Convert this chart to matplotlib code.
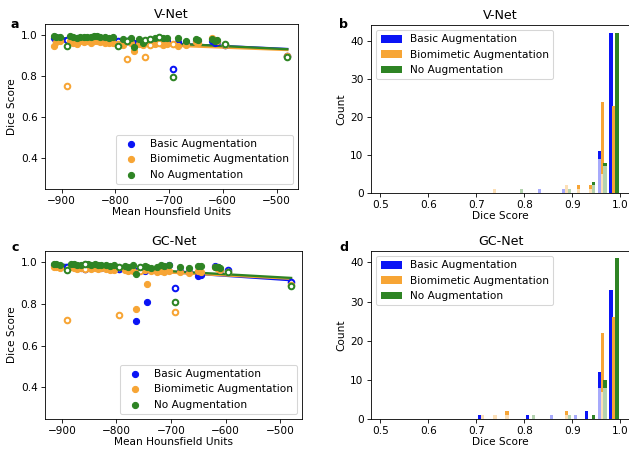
import numpy as np
import matplotlib
matplotlib.use('Agg')
from matplotlib import pyplot as plt

W, H, DPI = 629, 449, 76

# ---- colours
c_basic = '#0a14f5'
c_bio = '#f7a535'
c_none = '#2e8424'
colors = [c_basic, c_bio, c_none]
names = ['Basic Augmentation', 'Biomimetic Augmentation', 'No Augmentation']

# ---- scatter data (mean HU per subject, shared by both nets)
hu = [-915, -910, -904, -890, -884, -878, -872, -865, -858, -852,
      -846, -840, -834, -828, -820, -812, -804, -795, -785, -778,
      -770, -765, -756, -748, -744, -736, -726, -718, -712, -704,
      -692, -684, -668, -650, -646, -620, -614, -610, -595, -481]

# V-Net dice
vnet_basic = [0.985, 0.988, 0.982, 0.977, 0.985, 0.980, 0.983, 0.978, 0.986, 0.982,
              0.984, 0.987, 0.980, 0.982, 0.978, 0.975, 0.981, 0.972, 0.975, 0.968,
              0.977, 0.960, 0.970, 0.965, 0.968, 0.970, 0.975, 0.978, 0.972, 0.970,
              0.832, 0.966, 0.965, 0.972, 0.968, 0.970, 0.960, 0.965, 0.950, 0.895]
vnet_bio = [0.947, 0.965, 0.968, 0.751, 0.970, 0.960, 0.955, 0.972, 0.966, 0.970,
            0.962, 0.968, 0.972, 0.965, 0.960, 0.958, 0.962, 0.955, 0.950, 0.880,
            0.958, 0.921, 0.955, 0.950, 0.893, 0.952, 0.955, 0.958, 0.950, 0.955,
            0.955, 0.947, 0.950, 0.965, 0.960, 0.984, 0.975, 0.970, 0.950, 0.898]
vnet_none = [0.993, 0.990, 0.992, 0.947, 0.993, 0.991, 0.985, 0.990, 0.992, 0.988,
             0.992, 0.994, 0.993, 0.990, 0.988, 0.986, 0.990, 0.947, 0.982, 0.970,
             0.985, 0.940, 0.978, 0.960, 0.975, 0.980, 0.985, 0.990, 0.987, 0.985,
             0.793, 0.983, 0.970, 0.980, 0.975, 0.978, 0.972, 0.976, 0.955, 0.893]
vnet_test = [3, 17, 19, 24, 25, 27, 30, 38, 39]

# GC-Net dice
gc_basic = [0.985, 0.987, 0.982, 0.975, 0.980, 0.978, 0.975, 0.970, 0.965, 0.978,
            0.970, 0.975, 0.972, 0.970, 0.975, 0.968, 0.972, 0.965, 0.968, 0.962,
            0.965, 0.719, 0.960, 0.958, 0.810, 0.962, 0.955, 0.960, 0.958, 0.985,
            0.876, 0.955, 0.950, 0.934, 0.940, 0.980, 0.975, 0.960, 0.963, 0.905]
gc_bio = [0.975, 0.978, 0.972, 0.722, 0.975, 0.970, 0.968, 0.972, 0.965, 0.970,
          0.968, 0.972, 0.966, 0.970, 0.965, 0.962, 0.960, 0.744, 0.962, 0.958,
          0.955, 0.776, 0.958, 0.960, 0.895, 0.955, 0.952, 0.958, 0.950, 0.955,
          0.762, 0.950, 0.948, 0.955, 0.950, 0.975, 0.968, 0.960, 0.950, 0.890]
gc_none = [0.993, 0.990, 0.988, 0.960, 0.992, 0.990, 0.987, 0.985, 0.990, 0.992,
           0.988, 0.990, 0.985, 0.984, 0.987, 0.980, 0.985, 0.975, 0.982, 0.978,
           0.984, 0.942, 0.975, 0.980, 0.976, 0.972, 0.978, 0.985, 0.983, 0.985,
           0.807, 0.975, 0.970, 0.980, 0.982, 0.978, 0.975, 0.970, 0.952, 0.883]
gc_test = [3, 8, 17, 22, 30, 38, 39]

# fitted trend lines (dice at the two HU ends)
fit_hu = [-915, -480]
vnet_fit = [[0.984, 0.931], [0.969, 0.926], [0.986, 0.930]]
gc_fit = [[0.990, 0.913], [0.978, 0.920], [0.988, 0.924]]

# ---- histogram data: bar position, total count, count of the light part
vnet_hist = [
    ([0.832, 0.882, 0.956, 0.9806], [1, 1, 11, 42], [1, 1, 9, 0]),
    ([0.7375, 0.8875, 0.912, 0.9375, 0.962, 0.986], [1, 2, 2, 2, 24, 23], [1, 2, 1, 1, 5, 0]),
    ([0.794, 0.894, 0.944, 0.968, 0.993], [1, 1, 3, 8, 42], [1, 1, 2, 7, 0]),
]
gc_hist = [
    ([0.707, 0.807, 0.856, 0.906, 0.929, 0.956, 0.9806], [1, 1, 1, 1, 2, 12, 33], [0, 0, 1, 1, 0, 8, 0]),
    ([0.713, 0.739, 0.764, 0.8875, 0.962, 0.986], [1, 1, 2, 2, 22, 26], [1, 1, 1, 1, 7, 0]),
    ([0.819, 0.894, 0.944, 0.968, 0.993], [1, 1, 1, 10, 41], [1, 1, 0, 8, 0]),
]


def light(c, a=0.36):
    rgb = np.array(matplotlib.colors.to_rgb(c))
    return tuple(1 - a * (1 - rgb))


def px_axes(fig, l, t, r, b):
    return fig.add_axes([l / W, 1 - b / H, (r - l) / W, (b - t) / H])


def scatter_panel(ax, title, series, test, fits):
    hu_arr = np.array(hu)
    mask = np.zeros(len(hu), dtype=bool)
    mask[test] = True
    for ys, c, name in zip(series, colors, names):
        ys = np.array(ys)
        ax.scatter(hu_arr[~mask], ys[~mask], s=34, color=c, label=name, zorder=3)
        ax.scatter(hu_arr[mask], ys[mask], s=28, facecolors='white', edgecolors=c,
                   linewidths=1.9, zorder=3)
    for f, c in zip(fits, colors):
        ax.plot(fit_hu, f, color=c, lw=2.2, zorder=2)
    ax.set_xlim(-931, -460)
    ax.set_ylim(0.248, 1.053)
    ax.set_xticks([-900, -800, -700, -600, -500])
    ax.set_yticks([0.4, 0.6, 0.8, 1.0])
    ax.set_xlabel('Mean Hounsfield Units', labelpad=1)
    ax.set_ylabel('Dice Score')
    ax.set_title(title)
    ax.legend(loc='lower right')


def hist_panel(ax, title, hist, ymax):
    w = 0.0066
    for (xs, tot, lo), c, name in zip(hist, colors, names):
        ax.bar(xs, tot, width=w, color=c, label=name, zorder=2)
        ax.bar(xs, lo, width=w, color=light(c), zorder=3)
    ax.set_xlim(0.481, 1.02)
    ax.set_ylim(0, ymax)
    ax.set_xticks([0.5, 0.6, 0.7, 0.8, 0.9, 1.0])
    ax.set_yticks([0, 10, 20, 30, 40])
    ax.set_xlabel('Dice Score', labelpad=1)
    ax.set_ylabel('Count')
    ax.set_title(title)
    ax.legend(loc='upper left')


fig = plt.figure(figsize=(W / DPI, H / DPI), dpi=DPI)

ax1 = px_axes(fig, 45, 24, 298, 189)
scatter_panel(ax1, 'V-Net', [vnet_basic, vnet_bio, vnet_none], vnet_test, vnet_fit)
ax2 = px_axes(fig, 371, 25, 630, 193)
hist_panel(ax2, 'V-Net', vnet_hist, 44.2)
ax3 = px_axes(fig, 45, 251, 302, 419)
scatter_panel(ax3, 'GC-Net', [gc_basic, gc_bio, gc_none], gc_test, gc_fit)
ax4 = px_axes(fig, 371, 251, 630, 419)
hist_panel(ax4, 'GC-Net', gc_hist, 42.9)

for lab, x, y in [('a', 15, 24), ('b', 344, 25), ('c', 15, 248), ('d', 344, 248)]:
    fig.text(x / W, 1 - y / H, lab, fontsize=12, fontweight='bold', ha='center', va='center')

fig.savefig('out.png', dpi=DPI)
